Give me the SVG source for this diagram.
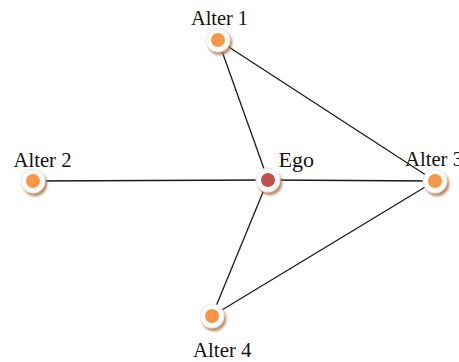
<svg xmlns="http://www.w3.org/2000/svg" width="459" height="362" viewBox="0 0 459 362">
<defs>
<filter id="sh" x="-50%" y="-50%" width="200%" height="200%">
<feDropShadow dx="2" dy="3" stdDeviation="1.3" flood-color="#a8703c" flood-opacity="0.75"/>
</filter>
<style>
.lbl{font-family:"Liberation Serif","Times New Roman",serif;font-size:22px;fill:#111}
.ring{fill:#fbfbfb;stroke:#e8e8e8;stroke-width:1;filter:url(#sh)}
.alt{fill:#f79646}
.ego{fill:#c0504d}
.edge{stroke:#1a1a1a;stroke-width:1.3;fill:none}
</style>
</defs>
<rect width="459" height="362" fill="#fff"/>
<g id="labels-under">
<text class="lbl" x="191" y="25" textLength="57" lengthAdjust="spacingAndGlyphs">Alter 1</text>
<text class="lbl" x="278.5" y="166.7">Ego</text>
<text class="lbl" x="13.5" y="166.7" textLength="58" lengthAdjust="spacingAndGlyphs">Alter 2</text>
<text class="lbl" x="405" y="166" textLength="58" lengthAdjust="spacingAndGlyphs">Alter 3</text>
<text class="lbl" x="193" y="356.7" textLength="58.5" lengthAdjust="spacingAndGlyphs">Alter 4</text>
</g>
<g id="connectors">
<line class="edge" x1="218" y1="40" x2="268" y2="180"/>
<line class="edge" x1="218" y1="40" x2="435" y2="181"/>
<line class="edge" x1="33" y1="181" x2="268" y2="180"/>
<line class="edge" x1="268" y1="180" x2="435" y2="181"/>
<line class="edge" x1="268" y1="180" x2="212" y2="316"/>
<line class="edge" x1="212" y1="316" x2="435" y2="181"/>
</g>
<g id="alter1"><circle class="ring" cx="218" cy="40" r="12"/><circle class="alt" cx="218" cy="40" r="7"/></g>
<g id="ego"><circle class="ring" cx="268" cy="180" r="12"/><circle class="ego" cx="268" cy="180" r="7"/></g>
<g id="alter2"><circle class="ring" cx="33" cy="181" r="12"/><circle class="alt" cx="33" cy="181" r="7"/></g>
<g id="alter3"><circle class="ring" cx="435" cy="181" r="12"/><circle class="alt" cx="435" cy="181" r="7"/></g>
<g id="alter4"><circle class="ring" cx="212" cy="316" r="12"/><circle class="alt" cx="212" cy="316" r="7"/></g>
</svg>
